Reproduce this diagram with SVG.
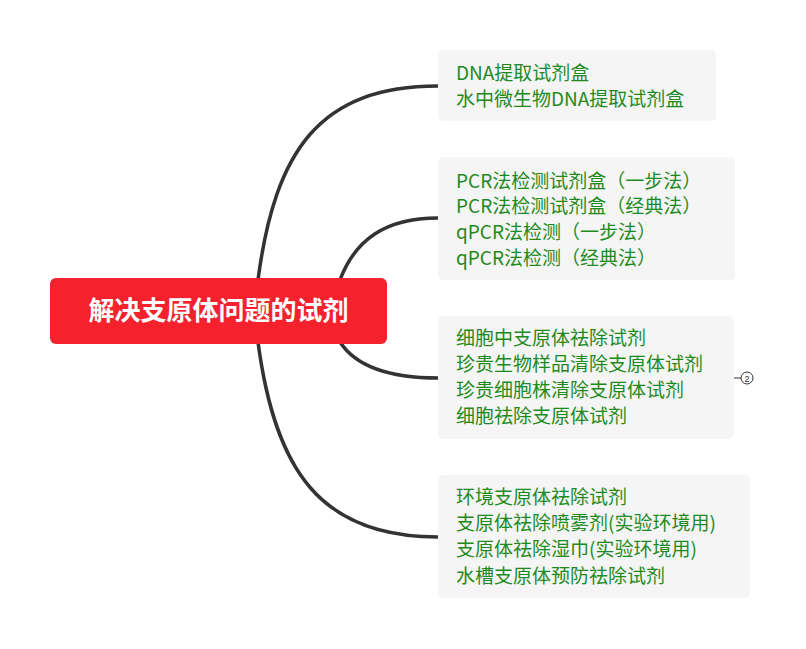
<svg xmlns="http://www.w3.org/2000/svg" width="806" height="649" viewBox="0 0 806 649">
<style>
.c{fill:none;stroke:#333;stroke-width:3.5}
.b{fill:#f5f5f5}
.t{font-family:"Noto Sans CJK SC","Noto Sans",sans-serif;font-size:19px;fill:#1e8a1e}
</style>
<rect width="806" height="649" fill="#fff"/>
<g id="connectors">
<path class="c" d="M258,280 C275,150 320,86 438,86"/>
<path class="c" d="M340,280 C355,240 385,218 438,218"/>
<path class="c" d="M340,342 C355,365 385,378 438,378"/>
<path class="c" d="M258,342 C275,470 320,537 438,537"/>
<line x1="734" y1="378" x2="741" y2="378" stroke="#333" stroke-width="1"/>
</g>
<g id="root">
<rect x="50" y="278" width="337" height="66" rx="6" fill="#f5222d"/>
<text x="218.5" y="320" text-anchor="middle" font-family="Noto Sans CJK SC,sans-serif" font-size="26" font-weight="bold" fill="#fff">解决支原体问题的试剂</text>
</g>
<g id="n1">
<rect class="b" x="438" y="50" width="278" height="71" rx="5"/>
<text class="t" x="456" y="80">DNA提取试剂盒</text>
<text class="t" x="456" y="106">水中微生物DNA提取试剂盒</text>
</g>
<g id="n2">
<rect class="b" x="438" y="157" width="297" height="123" rx="5"/>
<text class="t" x="456" y="188">PCR法检测试剂盒（一步法）</text>
<text class="t" x="456" y="213">PCR法检测试剂盒（经典法）</text>
<text class="t" x="456" y="239">qPCR法检测（一步法）</text>
<text class="t" x="456" y="265">qPCR法检测（经典法）</text>
</g>
<g id="n3">
<rect class="b" x="438" y="316" width="296" height="123" rx="5"/>
<text class="t" x="456" y="345">细胞中支原体祛除试剂</text>
<text class="t" x="456" y="371">珍贵生物样品清除支原体试剂</text>
<text class="t" x="456" y="397">珍贵细胞株清除支原体试剂</text>
<text class="t" x="456" y="423">细胞祛除支原体试剂</text>
</g>
<g id="collapse">
<circle cx="747" cy="378" r="6" fill="#fff" stroke="#333" stroke-width="1"/>
<text x="747" y="381.5" text-anchor="middle" font-family="Liberation Sans,sans-serif" font-size="9" fill="#333">2</text>
</g>
<g id="n4">
<rect class="b" x="438" y="475" width="312" height="123" rx="5"/>
<text class="t" x="456" y="504">环境支原体祛除试剂</text>
<text class="t" x="456" y="530">支原体祛除喷雾剂(实验环境用)</text>
<text class="t" x="456" y="556">支原体祛除湿巾(实验环境用)</text>
<text class="t" x="456" y="583">水槽支原体预防祛除试剂</text>
</g>
</svg>
